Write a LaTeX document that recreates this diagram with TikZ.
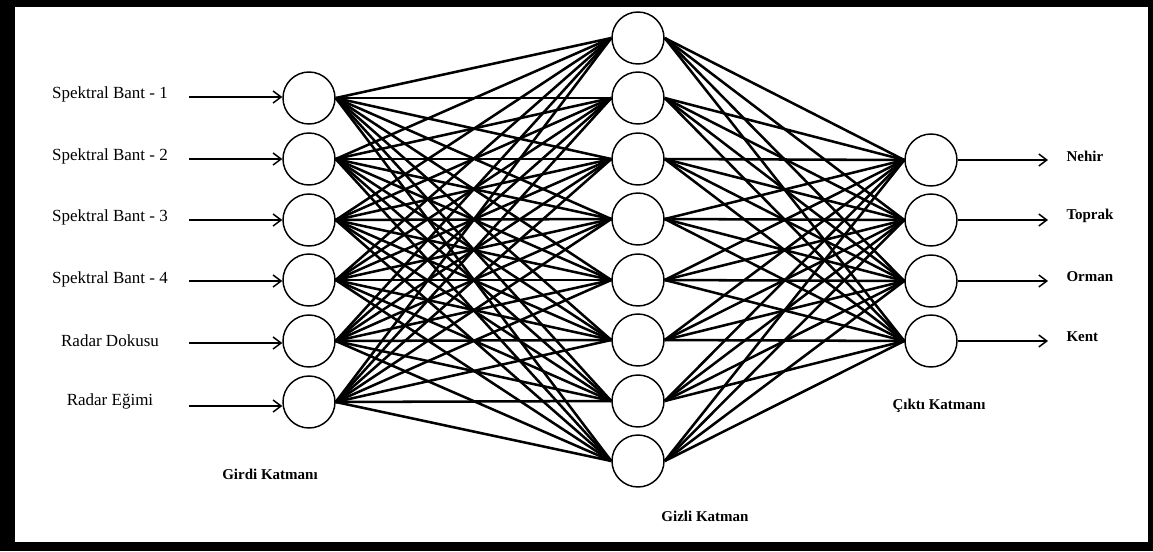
\documentclass[tikz,border=0pt]{standalone}
\usepackage{fontspec}
\setmainfont{Liberation Serif}
\usetikzlibrary{arrows.meta}

\tikzset{every picture/.style={line width=0.75pt}}
\tikzset{
  neuron/.style={draw, circle, minimum size=39pt, inner sep=0pt, line width=1.1pt},
  link/.style={line width=1.9pt},
  feed/.style={line width=1.1pt, -{Straight Barb[length=6pt,width=9pt,line width=1.1pt]}},
  inlbl/.style={inner sep=0.75pt, font=\fontsize{12.75}{15}\selectfont},
  outlbl/.style={inner sep=0.75pt, anchor=west, font=\fontsize{11.25}{13}\selectfont\bfseries},
}

\begin{document}
\begin{tikzpicture}[x=0.75pt,y=0.75pt,yscale=-1,xscale=1]
\useasboundingbox (0,0) rectangle (1153,551);

%Frame
\fill[black] (0,0) rectangle (1153,551);
\fill[white] (15,7) rectangle (1148,542);

%Input layer
\foreach \y/\a/\l/\t [count=\i] in {98/97/94/Spektral Bant - 1, 159/159/156/Spektral Bant - 2, 220/220/217/Spektral Bant - 3, 280/281/279/Spektral Bant - 4, 341/343/341/Radar Dokusu, 402/406/401/Radar Eğimi} {
  \node[neuron] (in\i) at (309,\y) {};
  \coordinate (src\i) at (189,\a);
  \node[inlbl] (lin\i) at (110,\l) {\t};
  \draw[feed] (src\i) -- (src\i -| in\i.west);
}

%Hidden layer
\foreach \y [count=\j] in {38,98,159,219,280,340,401,461}
  \node[neuron] (hid\j) at (638,\y) {};

%Output layer
\foreach \y/\t [count=\k] in {160/Nehir, 220/Toprak, 281/Orman, 341/Kent} {
  \node[neuron] (out\k) at (931,\y) {};
  \coordinate (dst\k) at (1048,\y);
  \node[outlbl] (lout\k) at (1065,\y-4) {\t};
  \draw[feed] (out\k) -- (dst\k);
}

%Connections
\foreach \i in {1,...,6}
  \foreach \j in {1,...,8}
    \draw[link] (in\i.east) -- (hid\j.west);
\foreach \j in {1,...,8}
  \foreach \k in {1,...,4}
    \draw[link] (hid\j.east) -- (out\k.west);

% Text Node
\node[outlbl, anchor=center] (tgirdi) at (270,474) {Girdi Katmanı};
% Text Node
\node[outlbl, anchor=center] (tgizli) at (705,516) {Gizli Katman};
% Text Node
\node[outlbl, anchor=center] (tcikti) at (939,406) {Çıktı Katmanı};

\end{tikzpicture}
\end{document}
